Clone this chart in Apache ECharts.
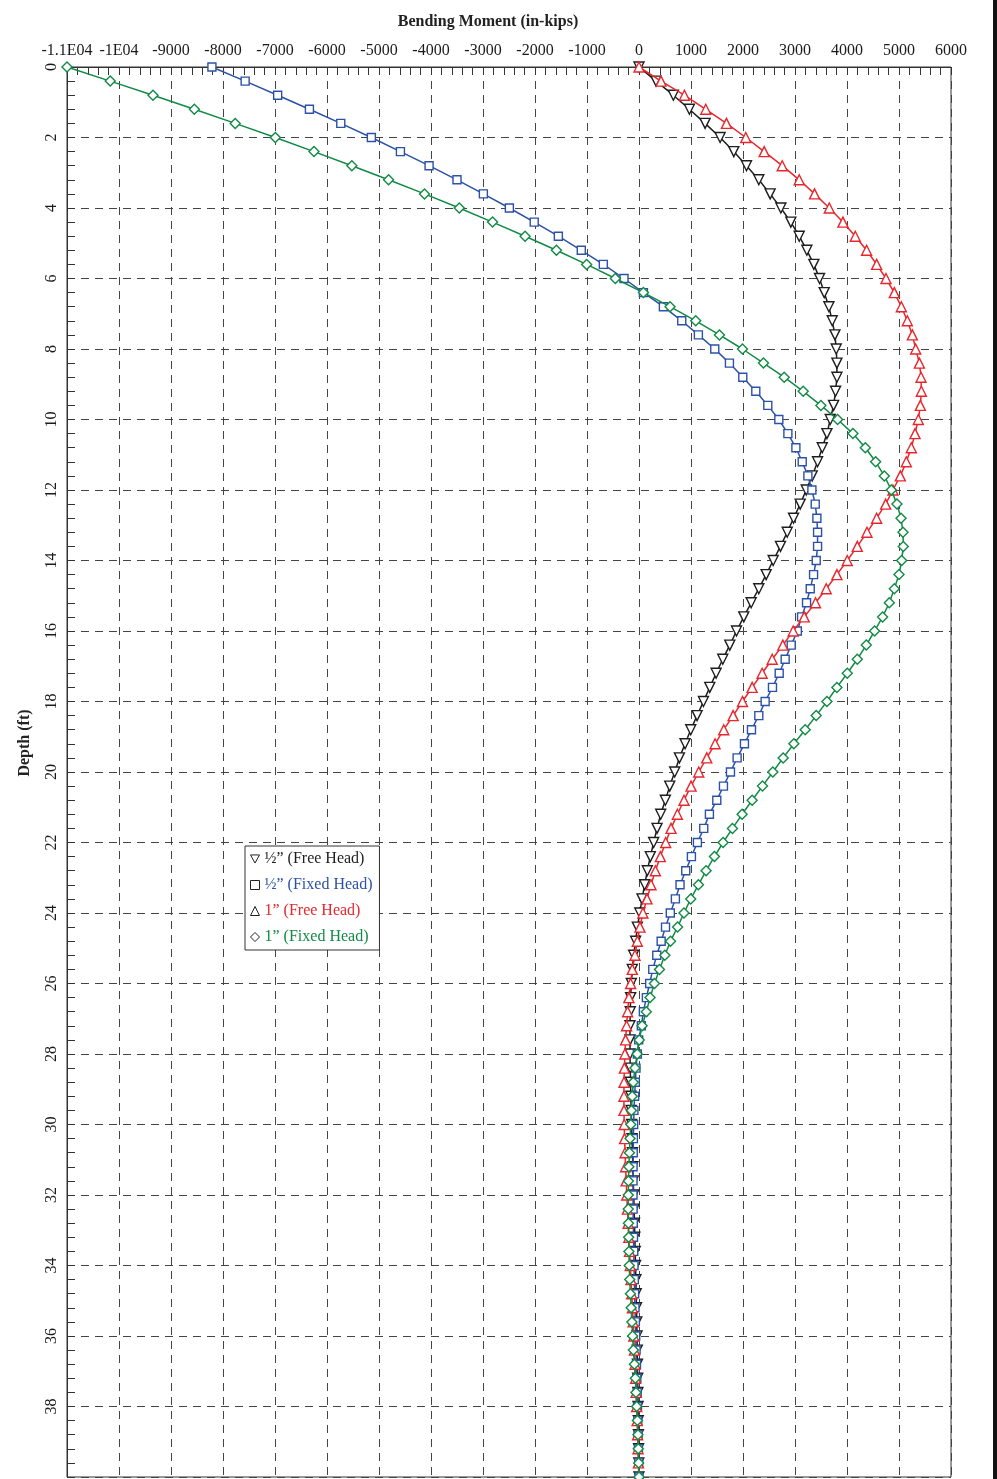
<!DOCTYPE html>
<html>
<head>
<meta charset="utf-8">
<script src="https://cdn.jsdelivr.net/npm/echarts@6/dist/echarts.min.js"></script>
<style>
html,body{margin:0;padding:0;background:#fff;}
#chart{width:997px;height:1479px;}
</style>
</head>
<body>
<div id="chart"></div>
<script>
const depth = [0,0.4,0.8,1.2,1.6,2,2.4,2.8,3.2,3.6,4,4.4,4.8,5.2,5.6,6,6.4,6.8,7.2,7.6,8,8.4,8.8,9.2,9.6,10,10.4,10.8,11.2,11.6,12,12.4,12.8,13.2,13.6,14,14.4,14.8,15.2,15.6,16,16.4,16.8,17.2,17.6,18,18.4,18.8,19.2,19.6,20,20.4,20.8,21.2,21.6,22,22.4,22.8,23.2,23.6,24,24.4,24.8,25.2,25.6,26,26.4,26.8,27.2,27.6,28,28.4,28.8,29.2,29.6,30,30.4,30.8,31.2,31.6,32,32.4,32.8,33.2,33.6,34,34.4,34.8,35.2,35.6,36,36.4,36.8,37.2,37.6,38,38.4,38.8,39.2,39.6,40];

const halfFree = [0,327,661,969,1271,1560,1823,2067,2304,2522,2728,
2920,3081,3228,3363,3472,3562,3652,3716,3768,3793,
3806,3806,3780,3742,3678,3614,3524,3434,3331,3216,
3100,2972,2850,2721,2580,2445,2304,2157,2015,1875,
1746,1611,1483,1361,1239,1117,995,886,777,687,
591,507,417,347,282,218,160,109,58,15,
-32,-65,-103,-129,-148,-161,-168,-174,-174,-172,
-168,-163,-157,-150,-142,-134,-126,-118,-110,-102,
-94,-87,-80,-73,-66,-60,-54,-48,-43,-38,
-33,-29,-25,-21,-18,-14,-11,-8,-4,-1];

const halfFixed = [-8213,-7574,-6949,-6338,-5735,-5147,-4588,-4037,-3500,-2993,-2493,
-2015,-1551,-1110,-686,-288,85,469,822,1142,1457,
1739,1996,2246,2477,2689,2863,3017,3139,3248,3325,
3389,3421,3434,3434,3408,3357,3293,3222,3126,3045,
2927,2811,2696,2567,2426,2304,2163,2028,1887,1759,
1624,1496,1354,1245,1123,1008,899,789,700,602,
510,426,342,265,205,142,84,45,-6,-32,
-58,-71,-84,-97,-103,-108,-111,-114,-115,-115,
-113,-110,-106,-101,-96,-90,-84,-77,-70,-63,
-56,-49,-42,-35,-29,-23,-17,-11,-6,-1];

const oneFree = [0,424,873,1284,1682,2054,2407,2754,3081,3376,3659,
3922,4159,4377,4570,4750,4910,5045,5160,5257,5321,
5392,5424,5430,5411,5372,5308,5237,5141,5026,4884,
4743,4570,4384,4198,4005,3806,3601,3395,3177,2965,
2766,2561,2368,2176,1990,1810,1630,1463,1303,1149,
1001,866,738,616,513,411,315,231,154,75,
19,-32,-77,-129,-161,-194,-219,-239,-258,-271,
-281,-288,-290,-289,-284,-277,-268,-258,-247,-235,
-222,-209,-196,-182,-168,-154,-140,-126,-113,-100,
-88,-76,-65,-55,-45,-36,-27,-19,-11,-4];

const oneFixed = [-11000,-10169,-9346,-8551,-7765,-6993,-6250,-5522,-4816,-4125,-3456,
-2816,-2191,-1588,-1007,-455,85,597,1091,1547,1990,
2394,2792,3158,3498,3819,4114,4352,4551,4718,4852,
4961,5039,5077,5083,5051,5000,4910,4814,4685,4531,
4371,4198,4005,3806,3614,3408,3196,2978,2772,2574,
2375,2176,1983,1797,1617,1451,1290,1143,995,865,
742,606,497,394,297,213,140,60,5,-35,
-77,-110,-130,-145,-158,-172,-184,-195,-203,-206,
-206,-203,-199,-194,-187,-178,-165,-150,-136,-123,
-108,-88,-70,-58,-45,-30,-20,-14,-6,0];

const seriesNames = ['½” (Free Head)', '½” (Fixed Head)', '1” (Free Head)', '1” (Fixed Head)'];
const xTickValues = [-11000,-10000,-9000,-8000,-7000,-6000,-5000,-4000,-3000,-2000,-1000,0,1000,2000,3000,4000,5000,6000];
const xTickLabels = ['-1.1E04','-1E04','-9000','-8000','-7000','-6000','-5000','-4000','-3000','-2000','-1000','0','1000','2000','3000','4000','5000','6000'];
const yTickValues = [0,2,4,6,8,10,12,14,16,18,20,22,24,26,28,30,32,34,36,38];
const yTickLabels = ['0','2','4','6','8','10','12','14','16','18','20','22','24','26','28','30','32','34','36','38'];

const FONT = 'Liberation Serif';
const colors = ['#1e1e1e', '#2b52a8', '#e8262c', '#118a45'];
const symbols = ['triangle', 'rect', 'triangle', 'diamond'];
const rotations = [180, 0, 0, 0];
const sizes = [10, 8, 10, 10];
const legendIcons = ['path://M0,0L10,0L5,9Z', 'rect', 'triangle', 'diamond'];
const values = [halfFree, halfFixed, oneFree, oneFixed];

function pairs(arr){ return arr.map((v,i)=>[v, depth[i]]); }

const chart = echarts.init(document.getElementById('chart'), null, {renderer:'canvas'});

const series = values.map((arr, k) => ({
  name: seriesNames[k],
  type: 'line',
  data: pairs(arr),
  symbol: symbols[k],
  symbolRotate: rotations[k],
  symbolSize: sizes[k],
  showAllSymbol: true,
  color: colors[k],
  lineStyle: {color: colors[k], width: 1.5},
  itemStyle: {color: '#ffffff', borderColor: colors[k], borderWidth: 1.4},
  emphasis: {disabled: true},
  z: 3 + k,
  animation: false
}));

chart.setOption({
  animation: false,
  backgroundColor: '#ffffff',
  title: {
    text: 'Bending Moment (in-kips)',
    left: 483, top: 9, textAlign: 'center',
    textStyle: {fontFamily: FONT, fontSize: 16, fontWeight: 'bold', color: '#222'}
  },
  grid: {left: 67, right: 46, top: 67, bottom: 2, show: true, borderColor: '#333', borderWidth: 1, backgroundColor: 'transparent'},
  legend: {
    orient: 'vertical',
    left: 245, top: 846,
    padding: [5, 7, 5, 5],
    itemWidth: 9, itemHeight: 9,
    itemGap: 10,
    backgroundColor: '#fff',
    borderColor: '#333', borderWidth: 1,
    selectedMode: false,
    textStyle: {fontFamily: FONT, fontSize: 16, lineHeight: 16},
    data: seriesNames.map((n, k) => ({
      name: n,
      icon: legendIcons[k],
      itemStyle: {color: '#ffffff', borderColor: '#222', borderWidth: 1},
      textStyle: {color: colors[k], fontFamily: FONT, fontSize: 16}
    }))
  },
  xAxis: {
    type: 'value',
    position: 'top',
    min: -11000, max: 6000, interval: 1000,
    axisLine: {show: true, onZero: false, lineStyle: {color: '#333', width: 1}},
    axisTick: {show: true, inside: true, length: 8, lineStyle: {color: '#333'}},
    minorTick: {show: true, splitNumber: 5, length: 8, lineStyle: {color: '#333'}},
    axisLabel: {
      margin: 8, color: '#1a1a1a', fontFamily: FONT, fontSize: 16,
      formatter: v => { const i = xTickValues.indexOf(v); return i >= 0 ? xTickLabels[i] : ''; }
    },
    splitLine: {show: true, lineStyle: {color: '#444', type: [8, 6], width: 1}},
    minorSplitLine: {show: false}
  },
  yAxis: {
    type: 'value',
    inverse: true,
    min: 0, max: 40, interval: 2,
    axisLine: {show: true, onZero: false, lineStyle: {color: '#333', width: 1}},
    axisTick: {show: true, inside: true, length: 8, lineStyle: {color: '#333'}},
    minorTick: {show: true, splitNumber: 5, length: 8, lineStyle: {color: '#333'}},
    axisLabel: {
      rotate: 90, margin: 7, color: '#1a1a1a', fontFamily: FONT, fontSize: 16,
      showMaxLabel: false,
      formatter: v => { const i = yTickValues.indexOf(v); return i >= 0 ? yTickLabels[i] : ''; }
    },
    splitLine: {show: true, lineStyle: {color: '#444', type: [8, 6], width: 1}}
  },
  graphic: [
    {
      type: 'text',
      x: 25, y: 743,
      rotation: Math.PI / 2,
      style: {text: 'Depth (ft)', fontFamily: FONT, fontSize: 16, fontWeight: 'bold', fill: '#222', align: 'center', verticalAlign: 'middle'}
    },
    {
      type: 'rect',
      shape: {x: 993, y: 0, width: 4, height: 1479},
      style: {fill: '#111'}
    }
  ],
  series: series
});
</script>
</body>
</html>
